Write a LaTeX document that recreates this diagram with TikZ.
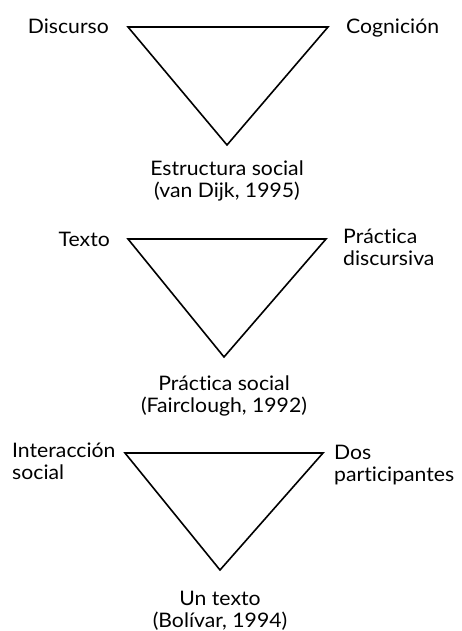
\documentclass[tikz,border=0pt]{standalone}
\usepackage{fontspec}
\setmainfont{Lato}[FakeStretch=1.06,Ligatures={NoCommon,NoRequired}]
\begin{document}
\begin{tikzpicture}[x=1pt,y=-1pt,
  lbl/.style={inner sep=0pt, font=\fontsize{20}{21.5}\selectfont, align=left},
  lblc/.style={inner sep=0pt, font=\fontsize{20}{21.5}\selectfont, align=center},
  tri/.style={draw=black, line width=1.6pt, line join=miter}]
\useasboundingbox (0,0) rectangle (462,631);
% triangle 1
\coordinate (a1) at (128,27);
\coordinate (b1) at (328,27);
\coordinate (c1) at (227,145);
\draw[tri] (a1) -- (b1) -- (c1) -- cycle;
\node[lbl, anchor=base east] (discurso) at (109,34) {Discurso};
\node[lbl, anchor=base west] (cognicion) at (346,34) {Cognición};
\node[lblc, anchor=base] (estructura) at (227,197) {Estructura social\\(van Dijk, 1995)};
% triangle 2
\coordinate (a2) at (128,239);
\coordinate (b2) at (326,239);
\coordinate (c2) at (224,357);
\draw[tri] (a2) -- (b2) -- (c2) -- cycle;
\node[lbl, anchor=base east] (texto) at (110,246) {Texto};
\node[lbl, anchor=base west] (practica) at (343,265) {Práctica\\discursiva};
\node[lblc, anchor=base] (practicasocial) at (224,412) {Práctica social\\(Fairclough, 1992)};
% triangle 3
\coordinate (a3) at (125,453);
\coordinate (b3) at (323,453);
\coordinate (c3) at (220,570);
\draw[tri] (a3) -- (b3) -- (c3) -- cycle;
\node[lbl, anchor=base west] (interaccion) at (12,479) {Interacción\\social};
\node[lbl, anchor=base west] (dos) at (334,481) {Dos\\participantes};
\node[lblc, anchor=base] (untexto) at (220,627) {Un texto\\(Bolívar, 1994)};
\end{tikzpicture}
\end{document}
